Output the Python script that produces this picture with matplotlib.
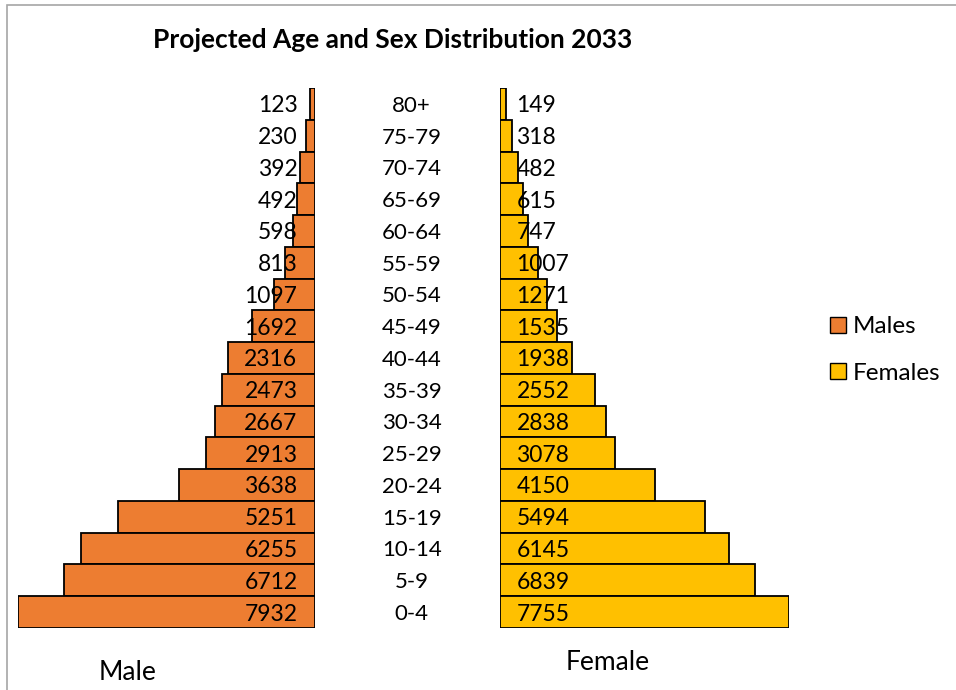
import numpy as np
import matplotlib.pyplot as plt
from matplotlib.patches import Patch, Rectangle

plt.rcParams['font.family'] = ['Lato', 'DejaVu Sans']

ages = ['80+', '75-79', '70-74', '65-69', '60-64', '55-59', '50-54', '45-49',
        '40-44', '35-39', '30-34', '25-29', '20-24', '15-19', '10-14', '5-9', '0-4']
males = [123, 230, 392, 492, 598, 813, 1097, 1692, 2316, 2473, 2667, 2913,
         3638, 5251, 6255, 6712, 7932]
females = [149, 318, 482, 615, 747, 1007, 1271, 1535, 1938, 2552, 2838, 3078,
           4150, 5494, 6145, 6839, 7755]

male_col = '#ED7D31'
female_col = '#FFC000'

W, H = 956, 690
fig = plt.figure(figsize=(W / 100, H / 100), dpi=100)

# grey frame (chart area border)
fig.patches.append(Rectangle((7 / W, -0.1), 1.2, 1 - 5 / H + 0.1, transform=fig.transFigure,
                             fill=False, edgecolor='#a6a6a6', lw=1.2))

y = np.arange(len(ages))[::-1]
bot = 1 - 628 / H
hgt = 540 / H

# males on the left, growing leftwards
axl = fig.add_axes([18 / W, bot, (315 - 18) / W, hgt])
axl.barh(y, males, height=1.0, color=male_col, edgecolor='black', lw=1.3)
axl.set_xlim(7932, 0)
axl.set_ylim(-0.5, 16.5)
for yi, v in zip(y, males):
    axl.text(470, yi - 0.06, str(v), ha='right', va='center', fontsize=16.5)

# females on the right
axr = fig.add_axes([500 / W, bot, (789 - 500) / W, hgt])
axr.barh(y, females, height=1.0, color=female_col, edgecolor='black', lw=1.3)
axr.set_xlim(0, 7755)
axr.set_ylim(-0.5, 16.5)
for yi, v in zip(y, females):
    axr.text(440, yi - 0.06, str(v), ha='left', va='center', fontsize=16.5)

for ax in (axl, axr):
    ax.axis('off')

# age group labels in the middle
for yi, a in zip(y, ages):
    axl.text(-2580, yi - 0.06, a, ha='center', va='center', fontsize=16)

fig.text(393 / W, 1 - 40 / H, 'Projected Age and Sex Distribution 2033',
         ha='center', va='center', fontsize=19, fontweight='bold')
fig.text(128 / W, 1 - 672 / H, 'Male', ha='center', va='center', fontsize=19)
fig.text(608 / W, 1 - 662 / H, 'Female', ha='center', va='center', fontsize=19)

handles = [Patch(facecolor=male_col, edgecolor='black', label='Males'),
           Patch(facecolor=female_col, edgecolor='black', label='Females')]
fig.legend(handles=handles, loc='center left', bbox_to_anchor=(820 / W, 1 - 350 / H),
           frameon=False, fontsize=17.5, handlelength=0.65, handleheight=0.65,
           handletextpad=0.3, labelspacing=1.05, borderaxespad=0)

fig.savefig('out.png', dpi=100)
